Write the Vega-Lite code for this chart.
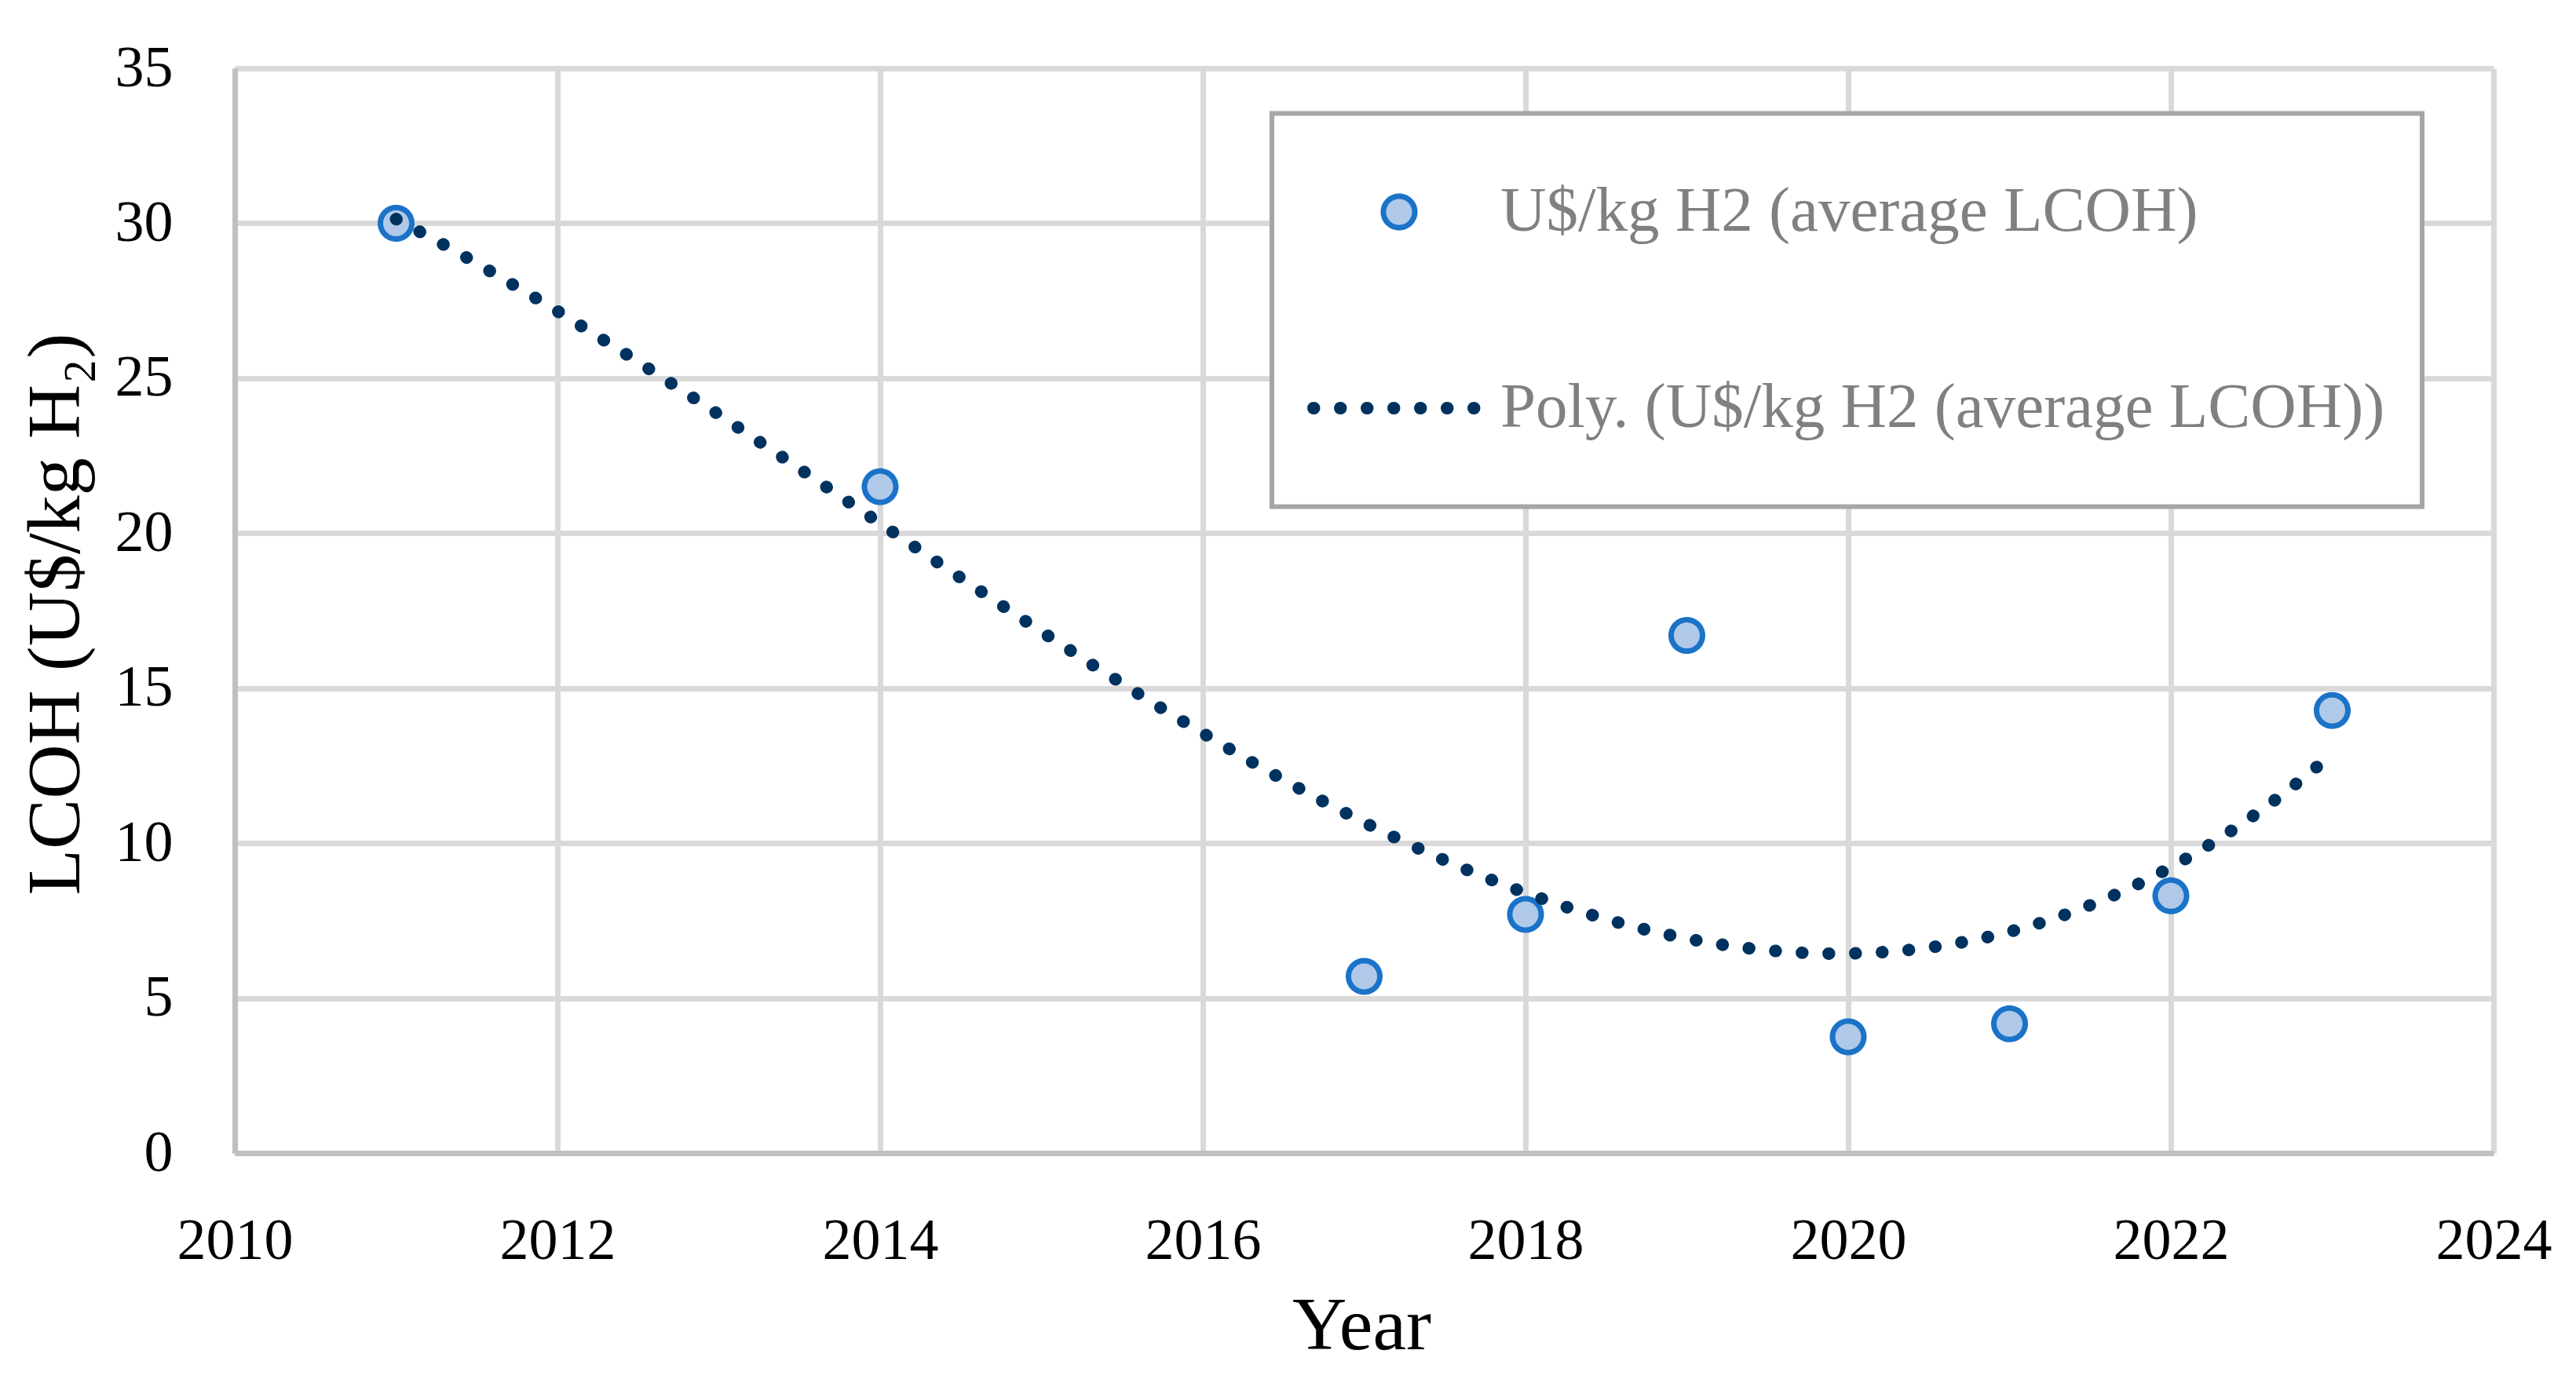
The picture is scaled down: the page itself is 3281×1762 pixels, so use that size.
{
  "$schema": "https://vega.github.io/schema/vega-lite/v6.json",
  "width": 2877,
  "height": 1382,
  "autosize": {"type": "none"},
  "padding": {"left": 299, "top": 87, "right": 105, "bottom": 293},
  "background": "white",
  "config": {"view": {"stroke": null}, "font": "Liberation Serif"},
  "data": {
    "values": [
      {"year": 2011, "lcoh": 30.0},
      {"year": 2014, "lcoh": 21.5},
      {"year": 2017, "lcoh": 5.7},
      {"year": 2018, "lcoh": 7.7},
      {"year": 2019, "lcoh": 16.7},
      {"year": 2020, "lcoh": 3.75},
      {"year": 2021, "lcoh": 4.17},
      {"year": 2022, "lcoh": 8.3},
      {"year": 2023, "lcoh": 14.28}
    ]
  },
  "layer": [
    {
      "mark": {"type": "point", "filled": true, "size": 1600, "fill": "#b0c9e9", "stroke": "#1a73c8", "strokeWidth": 7, "opacity": 1},
      "encoding": {
        "x": {
          "field": "year", "type": "quantitative",
          "scale": {"domain": [2010, 2024], "nice": false, "zero": false},
          "axis": {
            "values": [2010, 2012, 2014, 2016, 2018, 2020, 2022, 2024],
            "format": "d",
            "title": "Year",
            "titleFont": "Liberation Serif", "titleFontSize": 96, "titleFontWeight": "normal", "titleColor": "black",
            "titleX": 1435, "titleY": 249, "titleBaseline": "alphabetic", "titleAlign": "center",
            "labelFont": "Liberation Serif", "labelFontSize": 74, "labelColor": "black",
            "labelBaseline": "alphabetic", "labelPadding": 134, "labelFlush": false, "labelOverlap": false, "labelBound": false,
            "ticks": false, "tickSize": 0,
            "domainColor": "#bfbfbf", "domainWidth": 7,
            "gridColor": "#d9d9d9", "gridWidth": 7
          }
        },
        "y": {
          "field": "lcoh", "type": "quantitative",
          "scale": {"domain": [0, 35], "nice": false, "zero": true},
          "axis": {
            "values": [0, 5, 10, 15, 20, 25, 30, 35],
            "title": "LCOH (U$/kg H₂)",
            "titleFont": "Liberation Serif", "titleFontSize": 96, "titleFontWeight": "normal", "titleColor": "black",
            "titleX": -199, "titleY": 695, "titleAngle": 270, "titleBaseline": "alphabetic", "titleAlign": "center",
            "labelFont": "Liberation Serif", "labelFontSize": 74, "labelColor": "black",
            "labelPadding": 79, "labelFlush": false, "labelOverlap": false, "labelBound": false,
            "ticks": false, "tickSize": 0,
            "domainColor": "#bfbfbf", "domainWidth": 7,
            "gridColor": "#d9d9d9", "gridWidth": 7
          }
        },
        "strokeDash": {
          "datum": "U$/kg H2 (average LCOH)",
          "type": "nominal",
          "scale": {
            "domain": ["U$/kg H2 (average LCOH)", "Poly. (U$/kg H2 (average LCOH))"],
            "range": [[1, 0], [0.5, 33.5]]
          },
          "legend": {
            "title": null,
            "orient": "none",
            "legendX": 1321,
            "legendY": 57.5,
            "padding": 47,
            "fillColor": "white",
            "strokeColor": "#a6a6a6",
            "labelFont": "Liberation Serif",
            "labelFontSize": 81,
            "labelColor": "#808080",
            "labelLimit": 0,
            "labelOffset": 22.5,
            "labelExpr": "['', datum.label, '']",
            "rowPadding": 92,
            "symbolSize": 42436,
            "symbolStrokeWidth": 16,
            "symbolOffset": 0,
            "symbolType": "stroke",
            "symbolOpacity": 1,
            "encoding": {
              "legend": {"strokeWidth": {"value": 6}, "stroke": {"value": "#a6a6a6"}, "fill": {"value": "white"}},
              "labels": {"lineHeight": {"value": 38.5}, "dy": {"value": -38.5}, "x": {"value": 244}, "y": {"value": 78.5}},
              "symbols": {
                "x": {"value": {"expr": "datum.value === 'U$/kg H2 (average LCOH)' ? 115 : 109"}},
                "y": {"value": 78.5},
                "shape": {"value": {"expr": "datum.value === 'U$/kg H2 (average LCOH)' ? 'circle' : 'stroke'"}},
                "size": {"value": {"expr": "datum.value === 'U$/kg H2 (average LCOH)' ? 1600 : 42436"}},
                "fill": {"value": {"expr": "datum.value === 'U$/kg H2 (average LCOH)' ? '#b0c9e9' : 'transparent'"}},
                "stroke": {"value": {"expr": "datum.value === 'U$/kg H2 (average LCOH)' ? '#1a73c8' : '#00325f'"}},
                "strokeWidth": {"value": {"expr": "datum.value === 'U$/kg H2 (average LCOH)' ? 7 : 16"}},
                "strokeCap": {"value": "round"},
                "opacity": {"value": 1}
              }
            }
          }
        }
      }
    },
    {
      "transform": [{"regression": "lcoh", "on": "year", "method": "poly", "order": 3}],
      "mark": {"type": "line", "stroke": "#00325f", "strokeWidth": 16, "strokeCap": "round"},
      "encoding": {
        "x": {"field": "year", "type": "quantitative"},
        "y": {"field": "lcoh", "type": "quantitative"},
        "strokeDash": {"datum": "Poly. (U$/kg H2 (average LCOH))", "type": "nominal"}
      }
    }
  ]
}
